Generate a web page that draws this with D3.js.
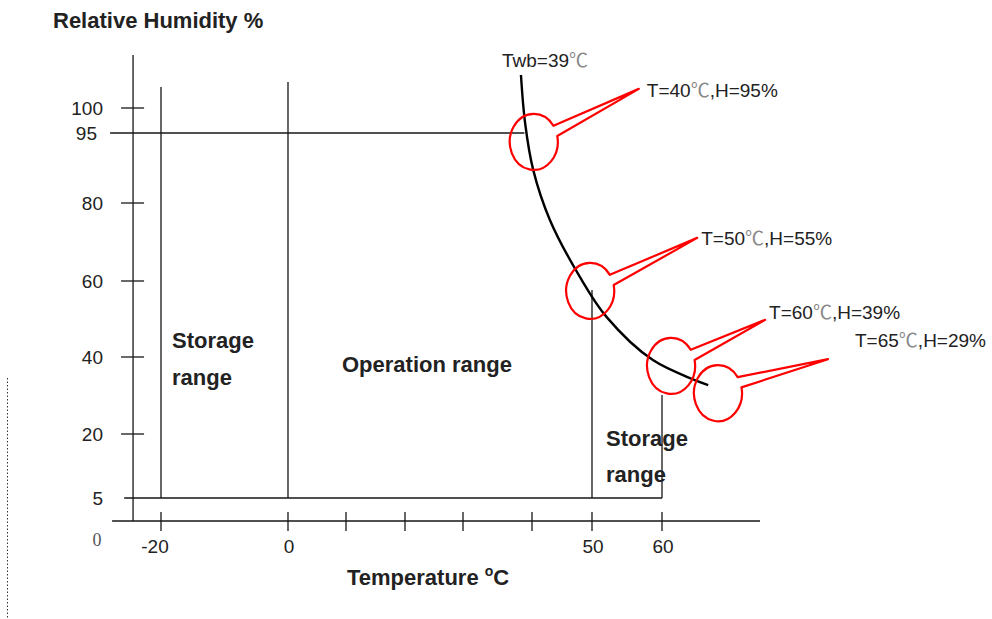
<!DOCTYPE html>
<html lang="en">
<head>
    <meta charset="UTF-8">
    <title>Humidity / temperature range</title>
    <style>
        body { margin: 0; background: #fff; }
        text { font-family: "Liberation Sans", Arial, sans-serif; fill: #222; }
        .bold { font-weight: bold; font-size: 22px; }
        .reg { font-size: 19px; }
        .deg { font-family: "Noto Sans CJK SC", sans-serif; fill: #888; }
    </style>
</head>
<script src="https://d3js.org/d3.v7.min.js"></script>
<body>
<script>
    // humidity ticks on the left axis
    var humTicks = [100, 95, 80, 60, 40, 20, 5];
    // temperature ticks on the bottom axis, and which ones get a label
    var tempTicks = [-20, 0, 10, 20, 30, 40, 50, 60];
    var tempLabels = [-20, 0, 50, 60];

    // wet bulb curve, Twb = 39 C
    var twbTemps = [38.4, 39.0, 40.2, 43.0, 48.0, 52.1, 58.7, 66.6];
    var twbHums  = [106.6, 97.0, 87.1, 75.6, 61.0, 50.5, 39.2, 32.7];

    // vertical range boundaries and how high they reach
    var boundTemps = [-20, 0, 50, 60];
    var boundTops  = [104.2, 105.2, 57.6, 30.1];

    // red callouts along the curve
    var calloutTemps = [40.3, 49.7, 61.3, 68.0];
    var calloutHums  = [93.1, 57.4, 37.7, 30.6];
    var calloutTexts = ["T=40", "T=50", "T=60", "T=65"];
    var calloutHumTexts = [",H=95%", ",H=55%", ",H=39%", ",H=29%"];

    var width = 992, height = 619;

    var svg = d3.select("body")
        .append("svg")
        .attr("width", width)
        .attr("height", height)

    // the drawing is not to scale, so both scales are piecewise
    var x = d3.scaleLinear()
        .domain([-20, 0, 10, 20, 30, 40, 50, 60])
        .range([161, 288, 346, 405, 463, 532, 592, 662]);
    var y = d3.scaleLinear()
        .domain([0, 5, 20, 40, 60, 80, 95, 100])
        .range([521, 498, 434, 357, 281, 203, 133, 108]);

    var axisTemp = -24.4,     // where the humidity axis stands
        tempMin = -27.7, tempMax = 74,
        humTop = 110.6;

    var ink = "#161616";
    var g = svg.append("g")
        .attr("stroke", ink)
        .attr("stroke-width", 1.3)
        .attr("fill", "none");

    // axes
    g.append("line")
        .attr("x1", x(axisTemp)).attr("x2", x(axisTemp))
        .attr("y1", y(humTop)).attr("y2", y(0));
    g.append("line")
        .attr("x1", x(tempMin)).attr("x2", x(tempMax))
        .attr("y1", y(0)).attr("y2", y(0));

    // humidity ticks (95 and 5 are drawn as long lines below)
    g.selectAll(".ytick")
        .data(humTicks.filter(function (d) { return d !== 95 && d !== 5; }))
        .enter().append("line")
        .attr("class", "ytick")
        .attr("x1", x(axisTemp) - 12).attr("x2", x(axisTemp) + 11)
        .attr("y1", function (d) { return y(d); })
        .attr("y2", function (d) { return y(d); });

    // 95 % line up to the curve, 5 % line across to the storage limit
    g.append("line")
        .attr("x1", x(tempMin) - 2).attr("x2", x(38.9))
        .attr("y1", y(95)).attr("y2", y(95));
    g.append("line")
        .attr("x1", x(-25.8)).attr("x2", x(60))
        .attr("y1", y(5)).attr("y2", y(5));

    // temperature ticks
    g.selectAll(".xtick")
        .data(tempTicks)
        .enter().append("line")
        .attr("class", "xtick")
        .attr("x1", function (d) { return x(d); })
        .attr("x2", function (d) { return x(d); })
        .attr("y1", y(0) - 9).attr("y2", y(0) + 10);

    // range boundaries
    g.selectAll(".bound")
        .data(boundTemps)
        .enter().append("line")
        .attr("class", "bound")
        .attr("x1", function (d) { return x(d); })
        .attr("x2", function (d) { return x(d); })
        .attr("y1", function (d, i) { return y(boundTops[i]); })
        .attr("y2", y(5));

    // wet bulb curve
    var curvePts = twbTemps.map(function (t, i) { return [x(t), y(twbHums[i])]; });
    g.append("path")
        .attr("d", d3.line().curve(d3.curveCatmullRom)(curvePts))
        .attr("stroke", "#000")
        .attr("stroke-width", 2.4);

    svg.append("text")
        .attr("class", "reg")
        .attr("x", curvePts[0][0] - 19)
        .attr("y", curvePts[0][1] - 8)
        .text("Twb=39")
        .append("tspan").attr("class", "deg").text("℃");

    // callouts: ellipse with a tail that points at the label
    var rx = 24, ry = 28;
    var tips = [[105, -53], [107, -53], [94, -46], [110, -34]];
    var labelOffsets = [[8, 8], [4, 7], [4, -1], [27, -12]];
    var a1 = -35 * Math.PI / 180, a2 = -12 * Math.PI / 180;

    calloutTemps.forEach(function (t, i) {
        var cx = x(t), cy = y(calloutHums[i]);
        var p1 = [cx + rx * Math.cos(a1), cy + ry * Math.sin(a1)];
        var p2 = [cx + rx * Math.cos(a2), cy + ry * Math.sin(a2)];
        var tip = [cx + tips[i][0], cy + tips[i][1]];
        var d = "M" + p1 + "L" + tip + "L" + p2 +
            "A" + rx + "," + ry + " 0 1 1 " + p1 + "Z";
        svg.append("path")
            .attr("d", d)
            .attr("fill", "none")
            .attr("stroke", "#f00")
            .attr("stroke-width", 2.2)
            .attr("stroke-linejoin", "round");

        var lab = svg.append("text")
            .attr("class", "reg")
            .attr("x", tip[0] + labelOffsets[i][0])
            .attr("y", tip[1] + labelOffsets[i][1]);
        lab.append("tspan").text(calloutTexts[i]);
        lab.append("tspan").attr("class", "deg").text("℃");
        lab.append("tspan").text(calloutHumTexts[i]);
    });

    // tick labels
    svg.selectAll(".ylab")
        .data(humTicks)
        .enter().append("text")
        .attr("class", "reg")
        .attr("text-anchor", "end")
        .attr("x", function (d) { return d === 95 ? 97 : 103; })
        .attr("y", function (d) { return y(d) + 7; })
        .text(function (d) { return d; });

    svg.append("text")
        .attr("x", 97).attr("y", 546)
        .attr("text-anchor", "middle")
        .style("font-family", "'Liberation Serif', serif")
        .style("font-size", "18px")
        .style("fill", "#555")
        .text("0");

    svg.selectAll(".xlab")
        .data(tempLabels)
        .enter().append("text")
        .attr("class", "reg")
        .attr("text-anchor", "middle")
        .attr("x", function (d) { return x(d) + (d < 0 ? -6 : 1); })
        .attr("y", 553)
        .text(function (d) { return d; });

    // titles
    svg.append("text")
        .attr("class", "bold")
        .attr("x", 53).attr("y", 28)
        .text("Relative Humidity %");

    var tl = svg.append("text")
        .attr("class", "bold")
        .attr("x", 347).attr("y", 585);
    tl.append("tspan").text("Temperature ");
    tl.append("tspan").attr("dy", -9).style("font-size", "14px").text("o");
    tl.append("tspan").attr("dy", 9).text("C");

    // range names
    function region(lines, t, dx, hums) {
        lines.forEach(function (s, i) {
            svg.append("text")
                .attr("class", "bold")
                .attr("x", x(t) + dx)
                .attr("y", y(hums[i]))
                .text(s);
        });
    }
    region(["Storage", "range"], -20, 11, [42.4, 32.6]);
    region(["Operation range"], 0, 54, [36.2]);
    region(["Storage", "range"], 50, 14, [17.2, 8.8]);

    // dotted page edge on the left
    svg.append("line")
        .attr("x1", 7.5).attr("x2", 7.5)
        .attr("y1", 378).attr("y2", height)
        .attr("stroke", "#333")
        .attr("stroke-dasharray", "1.5,2");
</script>
</body>
</html>
